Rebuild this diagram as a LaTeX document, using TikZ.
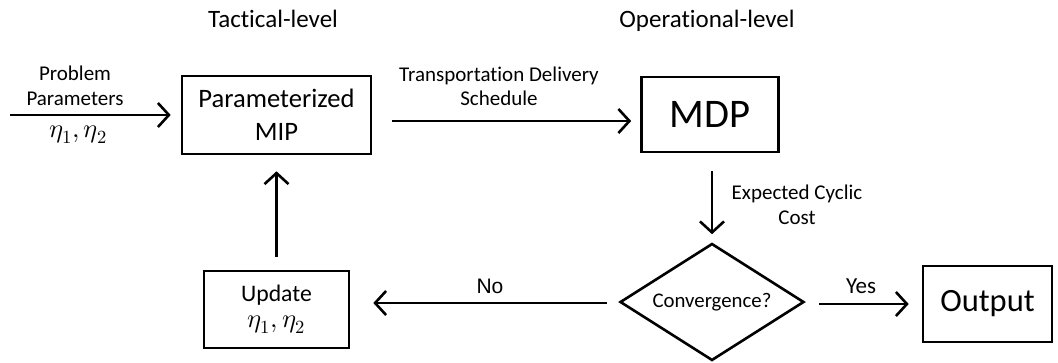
\documentclass[tikz,border=0pt]{standalone}
\usepackage{fontspec}
\usepackage{unicode-math}
\setmainfont[Ligatures=NoCommon]{Carlito}
\setmathfont{Latin Modern Math}
\newfontfamily\arialfont{Liberation Sans}
\usetikzlibrary{arrows.meta,shapes.geometric,calc}
\newcommand{\fsz}[1]{\fontsize{#1}{#1}\selectfont}
\tikzset{
  box/.style={draw, line width=2.6pt, inner sep=0pt, align=center},
  arr/.style={line width=2.6pt, -{Straight Barb[length=11pt,width=24pt,line width=2.6pt]}},
  lbl/.style={inner sep=0pt, anchor=base, font=\fsz{21}},
  title/.style={inner sep=0pt, anchor=base, font=\fsz{25}},
}
\begin{document}
\begin{tikzpicture}[x=1pt,y=-1pt]
\useasboundingbox (0,0) rectangle (1058,362);
% titles
\node[title] (tt) at (273,27) {Tactical-level};
\node[title] (ot) at (707,27) {Operational-level};
% boxes
\node[box, minimum width=189pt, minimum height=78pt, font=\fsz{26.6}] (mip) at (276.5,115)
  {Parameterized\\[6pt]MIP};
\node[box, minimum width=137pt, minimum height=75pt, font=\fsz{40.6}] (mdp) at (710,114.5)
  {\raisebox{-6pt}{MDP}};
\node[draw, line width=2.6pt, diamond, aspect=1.56, minimum width=184pt, minimum height=117pt, inner sep=0pt, font=\fsz{20.8}] (dia) at (712,302) {Convergence?};
\node[box, minimum width=129pt, minimum height=76pt, font=\fsz{32.5}] (out) at (987.5,304) {Output};
\node[box, minimum width=145pt, minimum height=77pt, font=\fsz{23.7}] (upd) at (276.5,309.5)
  {Update\\[2pt]{\fsz{26.5}$\eta_1,\eta_2$}};
% input
\coordinate (in) at (10,115);
\node[lbl] (pp1) at (75,80) {Problem};
\node[lbl] (pp2) at (75,105) {Parameters};
\node[lbl, font=\fsz{26.5}] (eta) at (78,137) {$\eta_1,\eta_2$};
\draw[arr] (in) -- ($(mip.west)+(-10,0)$);
% mip -> mdp
\draw[arr] ($(mip.east)+(20,6)$) -- ($(mdp.west)+(-9,6.5)$);
\node[lbl] (tds1) at (499,81) {Transportation Delivery};
\node[lbl] (tds2) at (499,105) {Schedule};
% mdp -> diamond
\draw[arr] ($(dia.north |- mdp.south)+(0,18)$) -- ($(dia.north)+(0,-8)$);
\node[lbl] (ecc1) at (797,199) {Expected Cyclic};
\node[lbl] (ecc2) at (797,224) {Cost};
% diamond -> output
\draw[arr] ($(dia.east)+(14,2)$) -- ($(out.west |- dia.east)+(-13,2)$);
\node[lbl, font=\fsz{23}] (yes) at (861,293) {Yes};
% diamond -> update
\draw[arr] ($(dia.west)+(-12,1)$) -- ($(upd.east |- dia.west)+(23,1)$);
\node[lbl, font=\arialfont\fsz{21}] (no) at (490,293) {No};
% update -> mip
\draw[arr] ($(upd.north)+(0,-13)$) -- ($(mip.south)+(0,16)$);
\end{tikzpicture}
\end{document}
